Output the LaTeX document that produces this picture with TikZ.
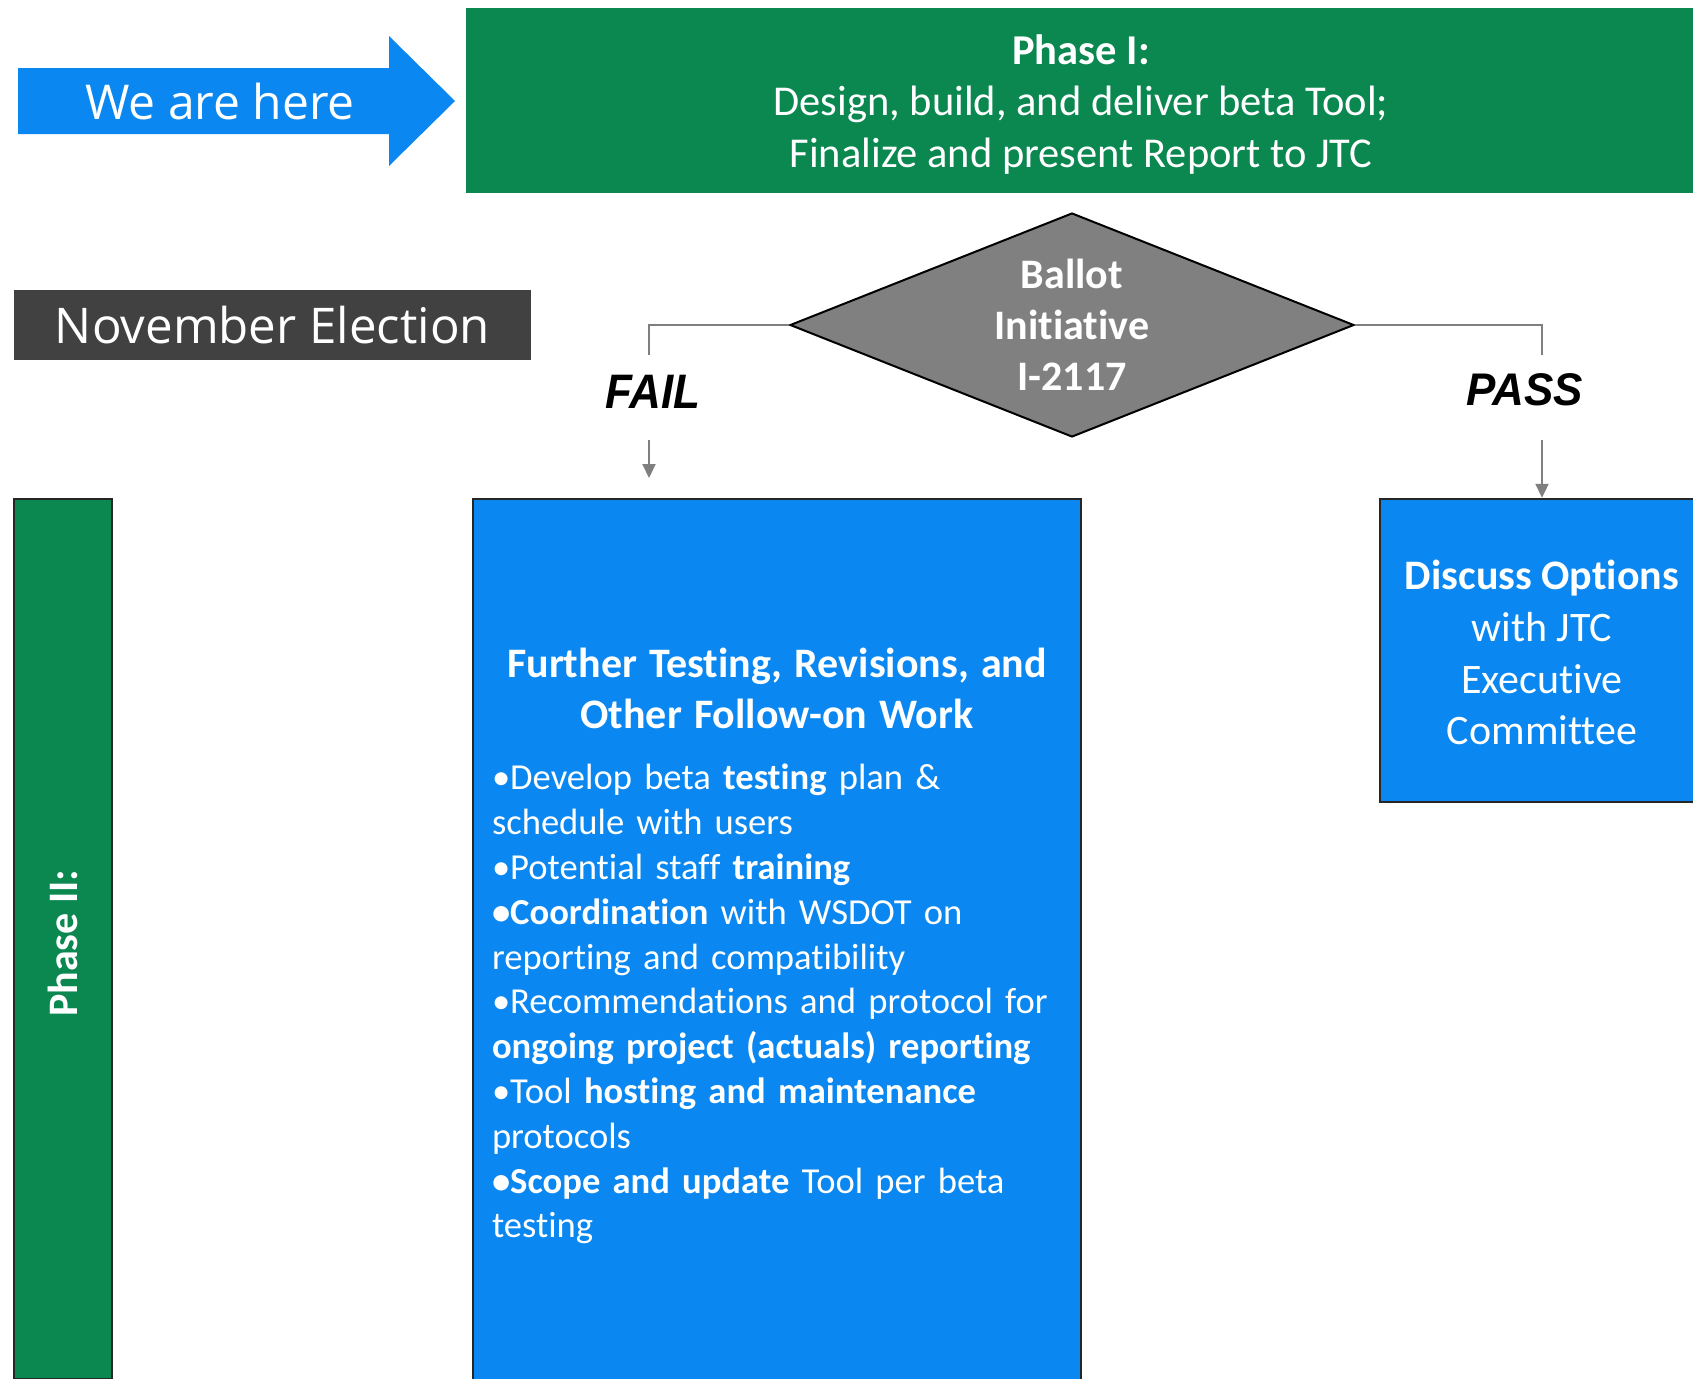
\documentclass[tikz,border=0pt]{standalone}
\usepackage{fontspec}
\setmainfont{Carlito}[Ligatures = {NoCommon, NoContextual}]
\newfontfamily\headfont{Open Sans}
\newfontfamily\labelfont{Liberation Sans}
\usetikzlibrary{shapes.geometric,arrows.meta,positioning}
\definecolor{phasegreen}{RGB}{11,135,80}
\definecolor{boxblue}{RGB}{10,135,240}
\definecolor{darkbar}{RGB}{65,65,65}
\definecolor{ballotgray}{RGB}{128,128,128}
\definecolor{linkgray}{RGB}{127,127,127}

\begin{document}
\begin{tikzpicture}[
			x = 0.5pt, y = -0.5pt,
			every node/.style = {text = white, inner sep = 0pt},
			phase/.style = {fill = phasegreen, font = \fontsize{21.25}{25.6}\selectfont},
			bluebox/.style = {fill = boxblue, draw = black!85, line width = 1.2pt},
			headline/.style = {font = \headfont\fontsize{24}{28}\selectfont},
			branch/.style = {text = black, font = \labelfont\fontsize{22}{26}\selectfont\bfseries\itshape},
			link/.style = {draw = linkgray, line width = 1pt},
			linkarrow/.style = {-{Triangle[width = 6.5pt, length = 7pt]}}
		]

			\useasboundingbox (0,0) rectangle (1693,1378);
			\fill[white] (0,0) rectangle (1693,1378);

			\fill[boxblue] (18,68) -- (389,68) -- (389,36) -- (455,101) -- (389,166) -- (389,134) -- (18,134) -- cycle;
			\node[headline] (here) at (220,101) {We are here};

			\node[phase, minimum width = 615pt, minimum height = 92.75pt] (phaseone) at (1081,100.5) {};
			\node[phase, align = center] (phaseonetext) at (1081,104.5)
				{\textbf{Phase I:}\\Design, build, and deliver beta Tool;\\Finalize and present Report to JTC};

			\node[headline, font = \headfont\fontsize{24.6}{28}\selectfont, fill = darkbar, minimum width = 258.5pt, minimum height = 35pt]
				(election) at (272.5,325) {November Election};

			\node[diamond, fill = ballotgray, draw = black, line width = 1pt, aspect = 2.52, minimum width = 282pt, minimum height = 112pt,
				align = center, font = \bfseries\fontsize{21}{25.4}\selectfont] (ballot) at (1072,325) {Ballot\\Initiative\\I-2117};

			\node[branch] (fail) at (653,392) {\scalebox{1}[1.1]{FAIL}};
			\node[branch] (pass) at (1525,390) {\scalebox{1}[1.04]{PASS}};

			\node[phase, draw = black!85, line width = 1.2pt, rotate = 90, minimum width = 440pt, minimum height = 49pt,
				font = \bfseries\fontsize{21}{25.4}\selectfont] (phasetwo) at (63,939) {Phase II:\kern4.3pt};

			\node[bluebox, minimum width = 304pt, minimum height = 447pt, text width = 285pt, align = left,
				font = \fontsize{18.3}{22.4}\selectfont] (further) at (777,946)
				{{\centering\bfseries\fontsize{21}{25.4}\selectfont Further Testing, Revisions, and\\Other Follow-on Work\par}
				\vspace{8.5pt}
				•Develop beta \textbf{testing} plan \&\\
				schedule with users\\
				•Potential staff \textbf{training}\\
				\textbf{•Coordination} with WSDOT on\\
				reporting and compatibility\\
				•Recommendations and protocol for\\
				\textbf{ongoing project (actuals) reporting}\\
				•Tool \textbf{hosting and maintenance}\\
				protocols\\
				\textbf{•Scope and update} Tool per beta\\
				testing};

			\node[bluebox, minimum width = 162pt, minimum height = 151.5pt] (discuss) at (1542,650.5) {};
			\node[align = center, font = \fontsize{21}{25.8}\selectfont] (discusstext) at (1542,652.7)
				{\textbf{Discuss Options}\\with JTC\\Executive\\Committee};

			\coordinate (failtop) at (649,355);
			\coordinate (failfrom) at (649,440);
			\coordinate (failto) at (649,478);
			\coordinate (passtop) at (1542,355);
			\coordinate (passfrom) at (1542,440);

			\draw[link] (ballot.west) -| (failtop);
			\draw[link, linkarrow] (failfrom) -- (failto);
			\draw[link] (ballot.east) -| (passtop);
			\draw[link, linkarrow] (passfrom) -- (discuss.north);

		\end{tikzpicture}
\end{document}
